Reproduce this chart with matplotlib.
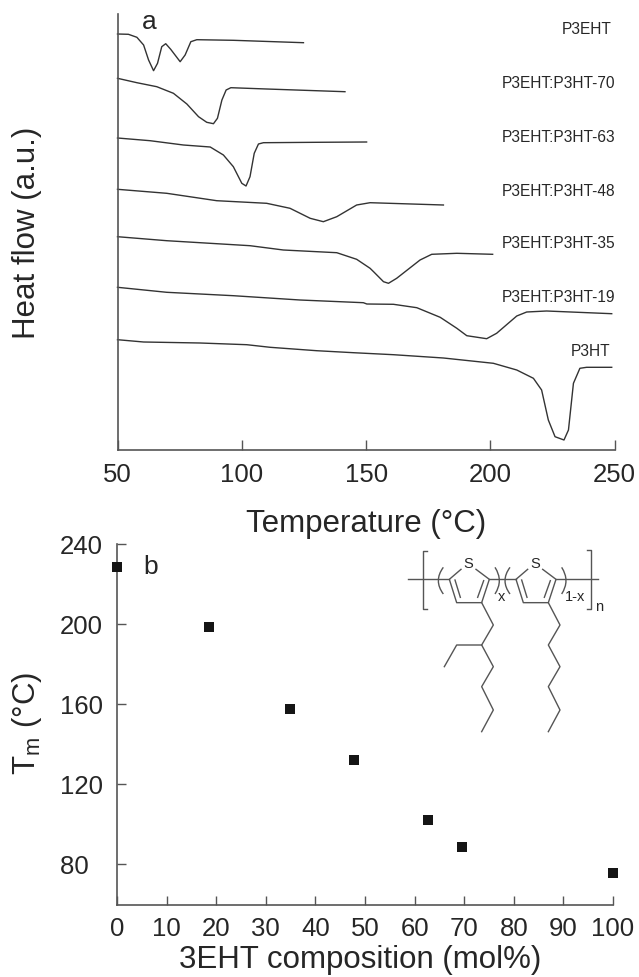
import matplotlib as mpl
mpl.use('Agg')
import matplotlib.pyplot as plt
from matplotlib.path import Path
from matplotlib.patches import PathPatch

plt.rcParams['font.family'] = ['Liberation Sans', 'DejaVu Sans']
plt.rcParams['mathtext.fontset'] = 'custom'
plt.rcParams['mathtext.rm'] = 'Liberation Sans'
plt.rcParams['mathtext.default'] = 'rm'

# panel a, temperature (C) and heat flow (a.u.)
t_p3eht = [50, 54.4, 57.8, 60.5, 62.5, 64.5, 66.1, 67.8, 69.4, 71.4, 75.2, 77.2, 79.5, 81.9, 96.6, 124.8]
h_p3eht = [416, 415.7, 412.7, 405, 390, 379.3, 386.7, 403.3, 406.3, 400.7, 388.3, 395, 408.3, 410.3, 409.7, 407.3]
t_70 = [50, 57.8, 65.8, 72.5, 77.9, 82.6, 85.9, 88.6, 90.2, 92, 93.7, 95.6, 110, 141.5]
h_70 = [371.7, 367.3, 363.3, 356.7, 346, 333.3, 327.7, 326.3, 331.7, 350, 360, 362.3, 361, 358.3]
t_63 = [50, 63.1, 76.5, 87.3, 92.6, 96.6, 100, 101.7, 103.3, 105, 106.7, 108.7, 130.1, 150.2]
h_63 = [312, 309.3, 305, 303, 295, 283.3, 266.7, 264, 273.3, 296.7, 306, 307.3, 307.7, 308]
t_48 = [50, 69.8, 89.9, 110, 119.4, 127.5, 132.8, 138.2, 146.2, 151.6, 181.1]
h_48 = [260.7, 256.7, 249.3, 246.7, 241.7, 231.7, 228.3, 233.3, 245, 247.3, 245]
t_35 = [50, 69.8, 103.3, 116.7, 138.2, 146.2, 151.6, 153, 157, 159, 162.3, 171.7, 176.4, 186.5, 200.9]
h_35 = [213.3, 209.3, 204.3, 200, 197.3, 190.7, 181.7, 178.3, 168.3, 166.7, 171.7, 190, 195.7, 196.7, 195.7]
t_19 = [50, 69.8, 96.6, 123.4, 148.9, 150.3, 161, 170.4, 179.8, 186.5, 190.5, 198.5, 202.5, 210.6, 214.6, 222.6, 248.8]
h_19 = [162.7, 157.7, 154.3, 150, 147.3, 146, 145.7, 142.3, 132.7, 121.7, 114.3, 111.3, 116.7, 134, 138, 139, 136.3]
t_p3ht = [50, 60.5, 83.2, 102, 111.4, 130.1, 144.9, 161, 181.1, 201.2, 210.6, 217.3, 220.6, 223.3, 226, 229.6, 231.4, 233.4, 236, 238.7, 248.8]
h_p3ht = [110.3, 108, 107, 105.3, 102.7, 99.3, 97.3, 95.3, 92, 86.7, 80, 71.7, 60, 30, 13.3, 10, 20, 66.7, 81.7, 82.7, 82.7]

names = ['P3EHT', 'P3EHT:P3HT-70', 'P3EHT:P3HT-63', 'P3EHT:P3HT-48', 'P3EHT:P3HT-35', 'P3EHT:P3HT-19', 'P3HT']
temp_ticks = [50, 100, 150, 200, 250]

# panel b
comp = [0, 18.5, 34.9, 47.7, 62.7, 69.5, 99.9]
tm = [228.5, 198.5, 157.6, 132.2, 102, 88.8, 75.8]
comp_ticks = [0, 10, 20, 30, 40, 50, 60, 70, 80, 90, 100]
tm_ticks = [80, 120, 160, 200, 240]
tm_labels = ['80  ', '120', '160', '200', '240']

W, H = 639, 977
axis_col = '#555555'
line_col = '#333333'
text_col = '#262626'

fig = plt.figure(figsize=(W / 100, H / 100), dpi=100)


def style(ax):
    ax.spines['top'].set_visible(False)
    ax.spines['right'].set_visible(False)
    ax.spines['left'].set_color(axis_col)
    ax.spines['bottom'].set_color(axis_col)
    ax.spines['left'].set_linewidth(1.2)
    ax.spines['bottom'].set_linewidth(1.2)
    ax.patch.set_alpha(0)


# top panel
ax1 = fig.add_axes([117.5 / W, (H - 450) / H, 497.2 / W, 436 / H])
style(ax1)
curves = [(t_p3eht, h_p3eht), (t_70, h_70), (t_63, h_63), (t_48, h_48), (t_35, h_35), (t_19, h_19), (t_p3ht, h_p3ht)]
for t, h in curves:
    ax1.plot(t, h, color=line_col, lw=1.0, solid_joinstyle='round', clip_on=False)
ax1.set_xlim(50, 250)
ax1.set_ylim(0, 436)
ax1.set_xticks(temp_ticks)
ax1.set_yticks([])
ax1.tick_params(axis='x', direction='in', length=7, width=1, color=axis_col,
                labelsize=18.5, labelcolor=text_col, pad=9)
ax1.set_xlabel('Temperature (°C)', fontsize=22.5, color=text_col, va='center')
ax1.xaxis.set_label_coords((366 - 117.5) / 497.2, -(524 - 450) / 436)
ax1.set_ylabel('Heat flow (a.u.)', fontsize=22.5, color=text_col, va='center')
ax1.yaxis.set_label_coords((27 - 117.5) / 497.2, (450 - 233) / 436)

# curve names, right aligned near the axis end
label_right = [611.7, 615.7, 615.7, 615.7, 615.7, 615.7, 610]
label_y = [29, 83, 137, 191, 243, 297, 352]
for name, lx, ly in zip(names, label_right, label_y):
    fig.text(lx / W, (H - ly) / H, name, fontsize=11.2, color=text_col, ha='right', va='center')
fig.text(142 / W, (H - 22) / H, 'a', fontsize=19, color=text_col, ha='left', va='center')

# bottom panel
ax2 = fig.add_axes([117 / W, (H - 905) / H, 496 / W, (905 - 544.3) / H])
style(ax2)
ax2.plot(comp, tm, linestyle='none', marker='s', ms=7, color='#151515', mew=0, clip_on=False, zorder=5)
ax2.set_xlim(0, 100)
ax2.set_ylim(59.6, 240)
ax2.set_xticks(comp_ticks)
ax2.set_yticks(tm_ticks)
ax2.set_yticklabels(tm_labels)
ax2.tick_params(axis='both', direction='in', length=6.5, width=1, color=axis_col,
                labelsize=18.5, labelcolor=text_col)
ax2.tick_params(axis='x', pad=9)
ax2.tick_params(axis='y', pad=10)
ax2.set_xlabel('3EHT composition (mol%)', fontsize=22.5, color=text_col, va='center')
ax2.xaxis.set_label_coords((360 - 117) / 496, -(960 - 905) / (905 - 544.3))
ax2.set_ylabel(r'T$_{\mathrm{m}}$ (°C)', fontsize=22.5, color=text_col, va='center')
ax2.yaxis.set_label_coords((27 - 117) / 496, (905 - 723) / (905 - 544.3))
fig.text(143 / W, (H - 567) / H, 'b', fontsize=19, color=text_col, ha='left', va='center')

# copolymer structure, drawn in its own little axes
ax3 = fig.add_axes([400 / W, (H - 740) / H, 220 / W, 210 / H])
ax3.set_xlim(0, 660)
ax3.set_ylim(630, 0)
ax3.axis('off')

bonds = [
    [(25, 148), (148, 148)], [(268, 148), (348, 148)], [(468, 148), (595, 148)],
    [(82, 62), (68, 62), (68, 238), (82, 238)], [(560, 60), (572, 60), (572, 238), (560, 238)],
    [(183, 118), (148, 148), (170, 218), (245, 218), (268, 148), (228, 118)],
    [(383, 118), (348, 148), (370, 218), (445, 218), (468, 148), (428, 118)],
    [(165, 150), (181, 202)], [(251, 152), (233, 202)],
    [(365, 150), (381, 202)], [(451, 152), (433, 202)],
    [(245, 218), (280, 285), (245, 345), (280, 410), (245, 470), (280, 540), (245, 605)],
    [(245, 345), (170, 345), (133, 410)],
    [(445, 218), (480, 285), (445, 345), (480, 410), (445, 470), (480, 540), (445, 605)],
]
for b in bonds:
    ax3.plot([p[0] for p in b], [p[1] for p in b], color=axis_col, lw=1.0, clip_on=False)

for x0, bulge in [(130, -30), (285, 26), (330, -30), (485, 26)]:
    path = Path([(x0, 112), (x0 + bulge, 152), (x0, 192)], [Path.MOVETO, Path.CURVE3, Path.CURVE3])
    ax3.add_patch(PathPatch(path, fill=False, edgecolor=axis_col, lw=1.0, clip_on=False))

for sx, sy, s in [(205, 103, 'S'), (405, 103, 'S'), (304, 200, 'x'), (526, 200, '1-x'), (596, 232, 'n')]:
    ax3.text(sx, sy, s, fontsize=10.5, color=text_col, ha='center', va='center')

plt.savefig('out.png', dpi=100)
